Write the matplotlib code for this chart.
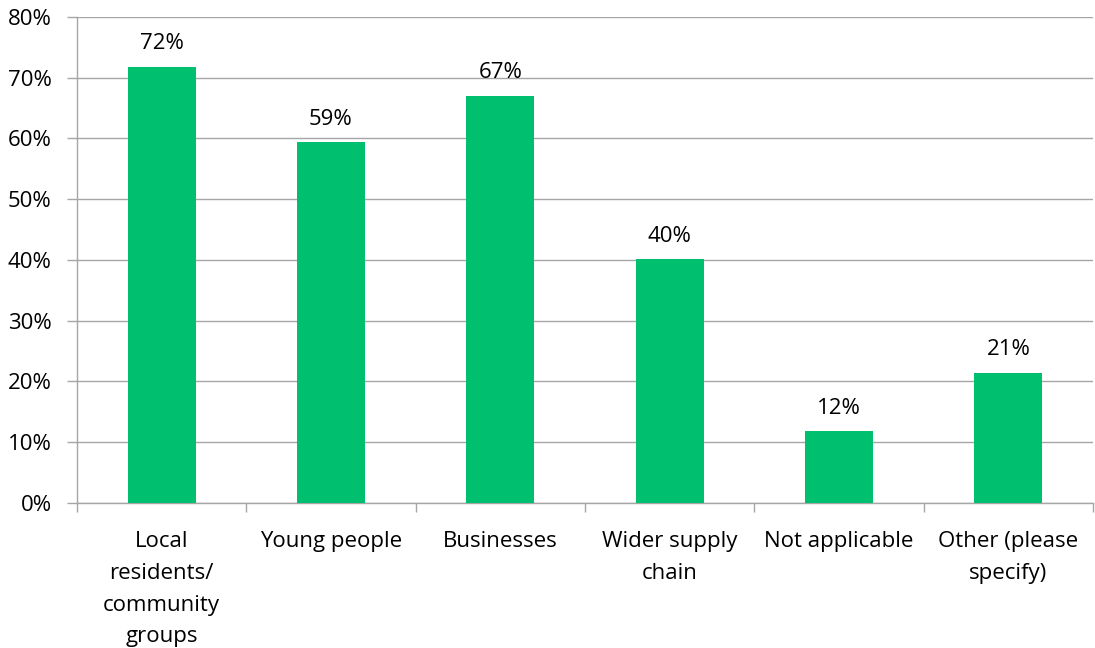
"""Bar chart: share of respondents by beneficiary group."""

import numpy as np
import matplotlib

matplotlib.use("Agg")
import matplotlib.pyplot as plt
from matplotlib.ticker import FixedLocator, PercentFormatter

categories = [
    "Local\nresidents/\ncommunity\ngroups",
    "Young people",
    "Businesses",
    "Wider supply\nchain",
    "Not applicable",
    "Other (please\nspecify)",
]
shares = [0.718, 0.594, 0.670, 0.401, 0.118, 0.214]
value_labels = ["72%", "59%", "67%", "40%", "12%", "21%"]
y_ticks = [0.0, 0.1, 0.2, 0.3, 0.4, 0.5, 0.6, 0.7, 0.8]

BAR_COLOR = "#00BF6F"
GRID_COLOR = "#A6A6A6"

plt.rcParams["font.family"] = ["Open Sans", "DejaVu Sans"]

fig = plt.figure(figsize=(10.95, 6.48), dpi=100)
ax = fig.add_axes([0.0703, 0.2238, 0.9279, 0.7500])

x = np.arange(len(categories))
bars = ax.bar(x, shares, width=0.40, color=BAR_COLOR, zorder=3)
ax.bar_label(bars, labels=value_labels, padding=9, fontsize=16, color="#000000")

ax.set_xlim(-0.5, len(categories) - 0.5)
ax.set_ylim(0, 0.8)
ax.set_yticks(y_ticks)
ax.yaxis.set_major_formatter(PercentFormatter(1.0, decimals=0))
ax.yaxis.grid(True, color=GRID_COLOR, lw=1.0, zorder=0)
ax.tick_params(axis="y", length=7.2, width=1.0, color=GRID_COLOR, pad=11,
               labelsize=16, labelcolor="#000000")

ax.set_xticks(x)
ax.set_xticklabels(categories, fontsize=16, linespacing=1.68, va="top")
ax.tick_params(axis="x", which="major", length=0, pad=20)
ax.xaxis.set_minor_locator(FixedLocator(np.arange(len(categories) + 1) - 0.5))
ax.tick_params(axis="x", which="minor", length=6.5, width=1.0, color=GRID_COLOR)

for side in ("top", "right"):
    ax.spines[side].set_visible(False)
for side in ("left", "bottom"):
    ax.spines[side].set_color(GRID_COLOR)
    ax.spines[side].set_linewidth(1.0)

fig.savefig("out.png", dpi=100)
plt.close(fig)
